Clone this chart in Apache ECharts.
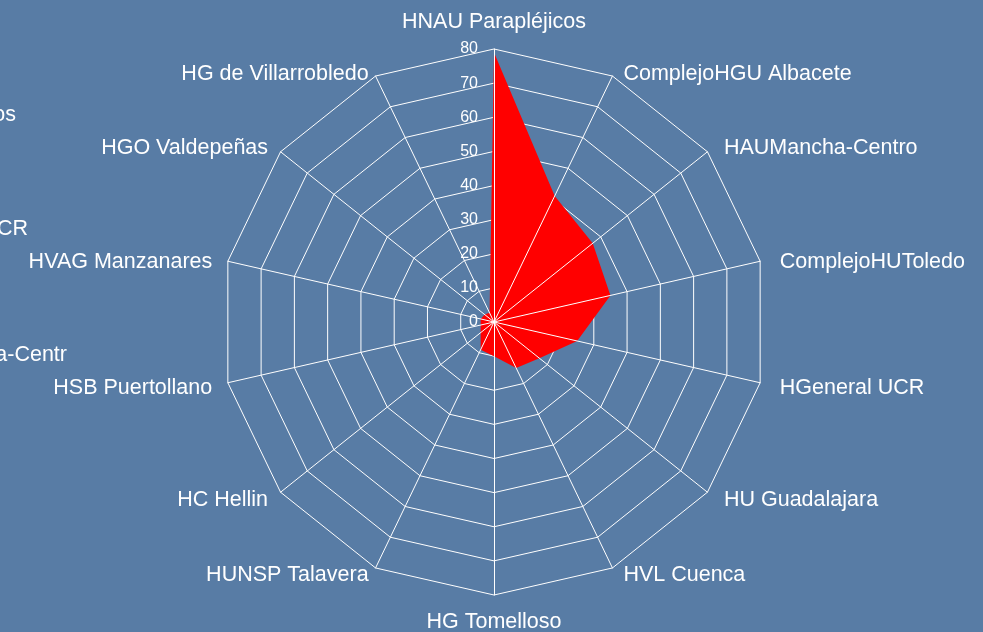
<!DOCTYPE html>
<html>
<head>
<meta charset="utf-8">
<script src="https://cdn.jsdelivr.net/npm/echarts@6/dist/echarts.min.js"></script>
<style>
	html, body { margin: 0; padding: 0; }
	#chart { width: 983px; height: 632px; }
</style>
</head>
<body>
<div id="chart"></div>
<script>
// hospitals, clockwise from the top
var hospitals = ['HNAU Parapléjicos', 'ComplejoHGU Albacete', 'HAUMancha-Centro', 'ComplejoHUToledo',
	'HGeneral UCR', 'HU Guadalajara', 'HVL Cuenca', 'HG Tomelloso', 'HUNSP Talavera', 'HC Hellin',
	'HSB Puertollano', 'HVAG Manzanares', 'HGO Valdepeñas', 'HG de Villarrobledo'];
var values = [79, 41, 37, 35, 25, 17, 15, 10, 9, 5, 4, 4, 3.5, 3];
var axisMax = 80;
// bits of the cut-off legend on the left edge
var legendBits = ['HNAU Parapléjicos', 'HGeneral UCR', 'HAUMancha-Centr'];

var font = 'Liberation Sans, Arial, sans-serif';

// echarts goes counter-clockwise, so keep the first and flip the rest
function ccw(arr) {
	return [arr[0]].concat(arr.slice(1).reverse());
}

var names = ccw(hospitals);
var vals = ccw(values);

// nudge the names a bit so they sit next to the corners like in the original
var nudgeY = [0, 12, 6, 4, 2, -2, -7, 0, -7, -2, 2, 4, 6, 12];
var rich = {};
hospitals.forEach(function(n, i) {
	var dy = nudgeY[i];
	var right = i > 0 && i < 7;
	rich['n' + i] = {
		color: '#fff',
		fontSize: 21.5,
		fontFamily: font,
		padding: [dy > 0 ? dy * 2 : 0, 0, dy < 0 ? -dy * 2 : 0, right ? 4 : 0]
	};
});

var indicatorRings = names.map(function(n) {
	return { name: n, min: 0, max: axisMax };
});
var indicatorSpokes = names.map(function(n, i) {
	var ind = { name: n, min: 0, max: axisMax };
	if(i === 0) {
		ind.axisLabel = { show: true };
	}
	return ind;
});

var myChart = echarts.init(document.getElementById('chart'));

var option = {
	backgroundColor: '#587ca5',
	textStyle: { fontFamily: font },
	radar: [{
		// rings + names, under the red area
		center: [494, 322],
		radius: 273,
		startAngle: 90,
		splitNumber: 8,
		shape: 'polygon',
		indicator: indicatorRings,
		nameGap: 16,
		axisName: {
			color: '#fff',
			fontSize: 21.5,
			fontFamily: font,
			formatter: function(name) {
				return '{n' + hospitals.indexOf(name) + '|' + name + '}';
			},
			rich: rich
		},
		splitLine: { lineStyle: { color: '#fff', width: 1 } },
		splitArea: { show: false },
		axisLine: { show: false },
		axisTick: { show: false },
		axisLabel: { show: false },
		z: 0
	}, {
		// spokes + scale, over the red area
		center: [494, 322],
		radius: 273,
		startAngle: 90,
		splitNumber: 8,
		shape: 'polygon',
		indicator: indicatorSpokes,
		axisName: { show: false },
		splitLine: { show: false },
		splitArea: { show: false },
		axisLine: { lineStyle: { color: '#fff', width: 1 } },
		axisTick: { show: false },
		axisLabel: { show: false, color: '#fff', fontSize: 16, fontFamily: font, margin: 16 },
		z: 5
	}],
	graphic: legendBits.map(function(t, i) {
		return {
			type: 'text',
			right: [967, 955, 916][i],
			top: [104, 218, 344][i],
			style: { text: t, fill: '#fff', font: '21.5px ' + font }
		};
	}),
	series: [{
		type: 'radar',
		radarIndex: 0,
		z: 2,
		symbol: 'none',
		lineStyle: { width: 0 },
		areaStyle: { color: '#ff0000', opacity: 1 },
		data: [{ value: vals, name: 'Serie' }]
	}]
};

myChart.setOption(option);
</script>
</body>
</html>
